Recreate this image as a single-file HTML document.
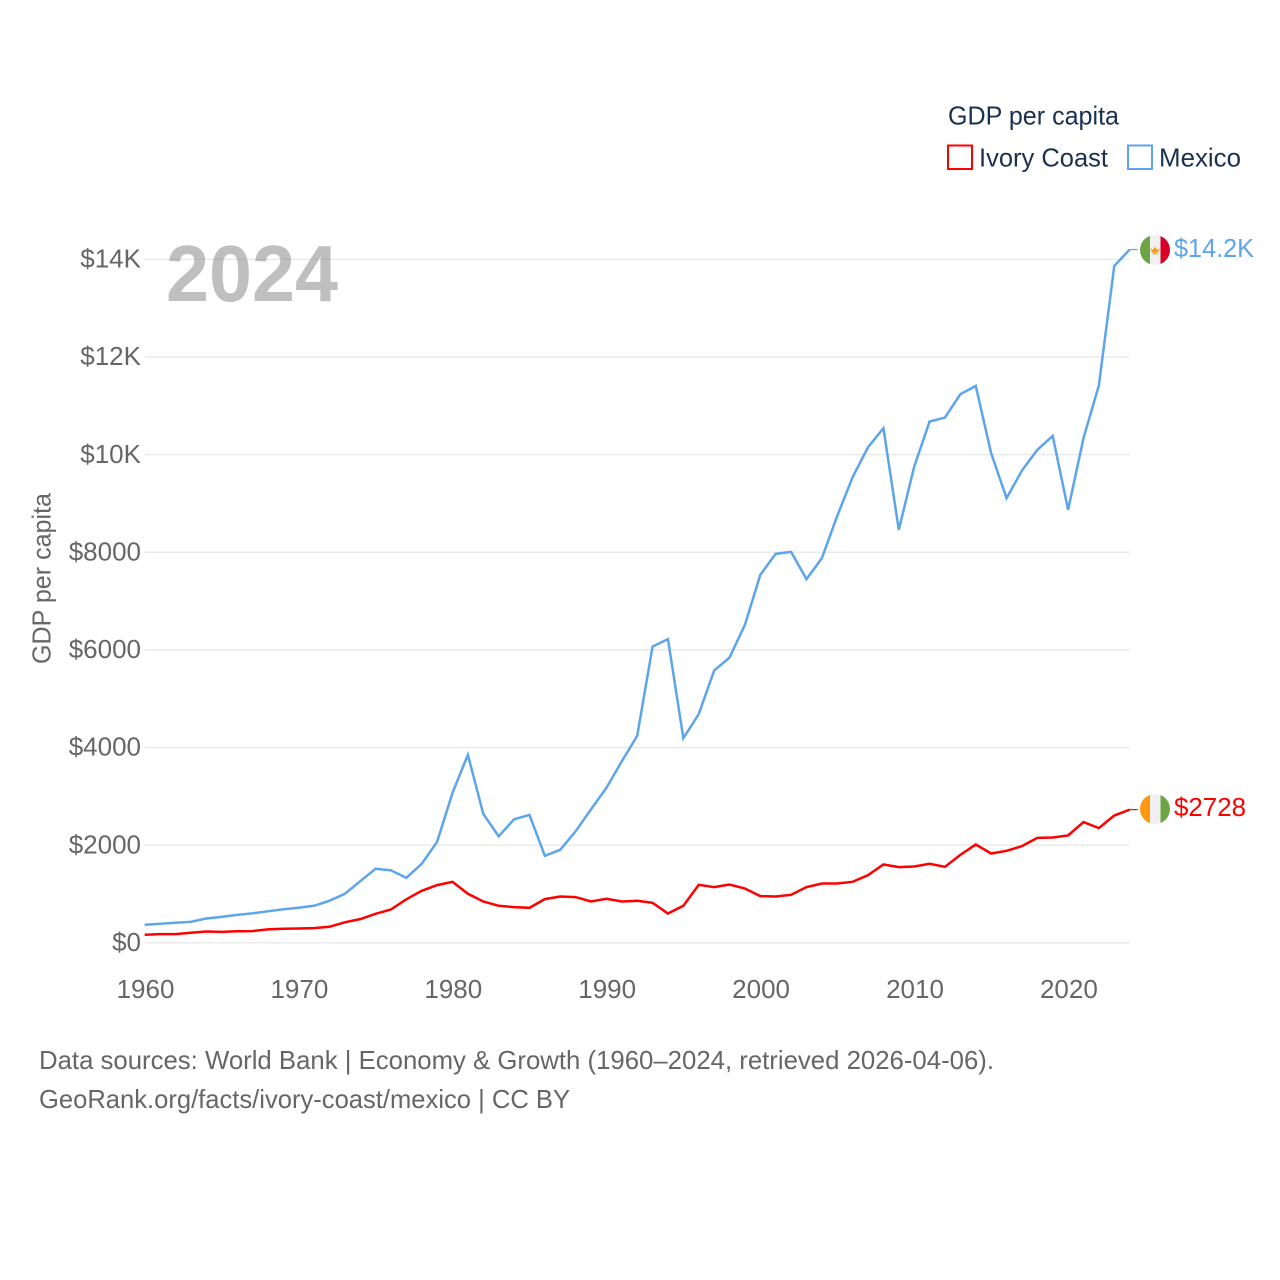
<!DOCTYPE html>
<html lang="en">
<head>
<meta charset="utf-8">
<title>GDP per capita: Ivory Coast and Mexico</title>
<style>
  html, body { margin: 0; padding: 0; background: #fff; }
  svg { display: block; font-family: "Liberation Sans", sans-serif; }
</style>
</head>
<body>
<svg id="chart" xmlns="http://www.w3.org/2000/svg" width="1280" height="1280" viewBox="0 0 1280 1280">
  <rect x="0" y="0" width="1280" height="1280" fill="#ffffff"/>
  <g id="grid"></g>
  <g id="yticks"></g>
  <g id="xticks"></g>
  <text transform="translate(50.5,578.5) rotate(-90)" text-anchor="middle" font-size="26" fill="#666666" textLength="171" lengthAdjust="spacingAndGlyphs">GDP per capita</text>
  <text x="166" y="301" font-size="80" font-weight="700" fill="#808080" fill-opacity="0.5" textLength="172" lengthAdjust="spacingAndGlyphs">2024</text>
  <g id="series"></g>

  <g>
    <clipPath id="clip-mx"><circle cx="1155" cy="250" r="15"/></clipPath>
    <g clip-path="url(#clip-mx)">
      <rect x="1140" y="235" width="10" height="30" fill="#6DA544"/>
      <rect x="1150" y="235" width="10.5" height="30" fill="#F0F0F0"/>
      <rect x="1160.5" y="235" width="9.5" height="30" fill="#D80027"/>
      <path d="M1150.5 248 L1153 250 L1155 246.5 L1157 250 L1159.5 248 L1158.5 251.5 L1155 254 L1151.5 251.5 Z" fill="#FF9811"/>
      <path d="M1151.5 252 Q1155 256.5 1158.5 252 L1157 254.5 L1153 254.5 Z" fill="#6DA544"/>
    </g>
  </g>
  <g>
    <clipPath id="clip-ci"><circle cx="1155" cy="809" r="15"/></clipPath>
    <g clip-path="url(#clip-ci)">
      <rect x="1140" y="794" width="10" height="30" fill="#FF9811"/>
      <rect x="1150" y="794" width="10.5" height="30" fill="#F0F0F0"/>
      <rect x="1160.5" y="794" width="9.5" height="30" fill="#6DA544"/>
    </g>
  </g>

  <text id="label-mexico" x="1174" y="257" font-size="26" fill="#5CA5EC" textLength="80" lengthAdjust="spacingAndGlyphs">$14.2K</text>
  <text id="label-ivory" x="1174" y="816" font-size="26" fill="#FF0000" textLength="72" lengthAdjust="spacingAndGlyphs">$2728</text>

  <g>
    <text x="948" y="124.5" font-size="26" fill="#1B3150" textLength="171" lengthAdjust="spacingAndGlyphs">GDP per capita</text>
    <g>
      <rect x="948" y="145.5" width="24" height="23.5" fill="none" stroke="#FF0000" stroke-width="2"/>
      <text x="979" y="166.5" font-size="26" fill="#1B3150" textLength="129" lengthAdjust="spacingAndGlyphs">Ivory Coast</text>
    </g>
    <g>
      <rect x="1128" y="145.5" width="24" height="23.5" fill="none" stroke="#5CA5EC" stroke-width="2"/>
      <text x="1159" y="166.5" font-size="26" fill="#1B3150" textLength="82" lengthAdjust="spacingAndGlyphs">Mexico</text>
    </g>
  </g>

  <text x="39" y="1069" font-size="26" fill="#666666" textLength="955" lengthAdjust="spacingAndGlyphs">Data sources: World Bank | Economy &amp; Growth (1960–2024, retrieved 2026-04-06).</text>
  <text x="39" y="1108" font-size="26" fill="#666666" textLength="531" lengthAdjust="spacingAndGlyphs">GeoRank.org/facts/ivory-coast/mexico | CC BY</text>
</svg>
<script>
const startYear = 1960;
const mexicoValues = [369,389,410,430,498,532,573,604,645,686,717,758,860,1003,1260,1516,1485,1331,1618,2068,3072,3850,2642,2181,2529,2621,1782,1905,2284,2734,3174,3717,4239,6068,6220,4192,4684,5577,5843,6513,7537,7967,8008,7449,7879,8745,9537,10152,10541,8458,9755,10676,10758,11238,11407,10029,9107,9673,10097,10383,8868,10336,11418,13865,14200];
const ivoryCoastValues = [164,178,178,205,231,225,236,240,276,287,293,301,328,420,485,594,682,891,1065,1182,1249,1004,846,758,731,717,895,948,936,846,901,846,860,819,600,758,1188,1141,1194,1112,956,948,983,1141,1214,1214,1249,1386,1604,1550,1563,1618,1556,1802,2013,1829,1884,1980,2150,2157,2198,2472,2349,2607,2728];
const yTickValues = [0,2000,4000,6000,8000,10000,12000,14000];
const yTickLabels = ["$0","$2000","$4000","$6000","$8000","$10K","$12K","$14K"];
const xTickYears = [1960,1970,1980,1990,2000,2010,2020];

const NS = "http://www.w3.org/2000/svg";
const plotLeft = 144.7, pxPerYear = 15.39, plotBottom = 942.8, pxPerUnit = 0.04882;
function xScale(year) { return plotLeft + (year - 1960) * pxPerYear; }
function yScale(value) { return plotBottom - value * pxPerUnit; }
const plotRight = xScale(2024);

const gridGroup = document.getElementById("grid");
const yTickGroup = document.getElementById("yticks");
yTickValues.forEach(function (v, i) {
  const line = document.createElementNS(NS, "line");
  line.setAttribute("x1", plotLeft);
  line.setAttribute("x2", plotRight);
  line.setAttribute("y1", yScale(v));
  line.setAttribute("y2", yScale(v));
  line.setAttribute("stroke", "#e8e8e8");
  line.setAttribute("stroke-width", "1.4");
  
  
  gridGroup.appendChild(line);

  const label = document.createElementNS(NS, "text");
  label.setAttribute("x", plotLeft - 3.7);
  label.setAttribute("y", yScale(v) + 8.2);
  label.setAttribute("text-anchor", "end");
  label.setAttribute("font-size", "26");
  label.setAttribute("fill", "#666666");
  label.textContent = yTickLabels[i];
  
  
  yTickGroup.appendChild(label);
});

const xTickGroup = document.getElementById("xticks");
xTickYears.forEach(function (year) {
  const label = document.createElementNS(NS, "text");
  label.setAttribute("x", xScale(year) + 0.8);
  label.setAttribute("y", 998);
  label.setAttribute("text-anchor", "middle");
  label.setAttribute("font-size", "26");
  label.setAttribute("fill", "#666666");
  label.textContent = String(year);
  
  
  xTickGroup.appendChild(label);
});

function pathFor(values) {
  return values.map(function (v, i) {
    return (i ? "L" : "M") + xScale(startYear + i).toFixed(2) + " " + yScale(v).toFixed(2);
  }).join(" ");
}

const seriesGroup = document.getElementById("series");

const mexicoLine = document.createElementNS(NS, "path");
mexicoLine.setAttribute("d", pathFor(mexicoValues));
mexicoLine.setAttribute("fill", "none");
mexicoLine.setAttribute("stroke", "#5CA5EC");
mexicoLine.setAttribute("stroke-width", "2.5");
mexicoLine.setAttribute("stroke-linejoin", "miter");


seriesGroup.appendChild(mexicoLine);

const ivoryLine = document.createElementNS(NS, "path");
ivoryLine.setAttribute("d", pathFor(ivoryCoastValues));
ivoryLine.setAttribute("fill", "none");
ivoryLine.setAttribute("stroke", "#FF0000");
ivoryLine.setAttribute("stroke-width", "2.5");
ivoryLine.setAttribute("stroke-linejoin", "miter");


seriesGroup.appendChild(ivoryLine);

const mexicoEnd = mexicoValues[mexicoValues.length - 1];
const mexicoConnector = document.createElementNS(NS, "line");
mexicoConnector.setAttribute("x1", plotRight);
mexicoConnector.setAttribute("x2", plotRight + 8);
mexicoConnector.setAttribute("y1", yScale(mexicoEnd));
mexicoConnector.setAttribute("y2", yScale(mexicoEnd));
mexicoConnector.setAttribute("stroke", "#5CA5EC");
mexicoConnector.setAttribute("stroke-width", "1.2");


seriesGroup.appendChild(mexicoConnector);

const ivoryEnd = ivoryCoastValues[ivoryCoastValues.length - 1];
const ivoryConnector = document.createElementNS(NS, "line");
ivoryConnector.setAttribute("x1", plotRight);
ivoryConnector.setAttribute("x2", plotRight + 8);
ivoryConnector.setAttribute("y1", yScale(ivoryEnd));
ivoryConnector.setAttribute("y2", yScale(ivoryEnd));
ivoryConnector.setAttribute("stroke", "#FF0000");
ivoryConnector.setAttribute("stroke-width", "1.2");


seriesGroup.appendChild(ivoryConnector);
</script>
</body>
</html>
